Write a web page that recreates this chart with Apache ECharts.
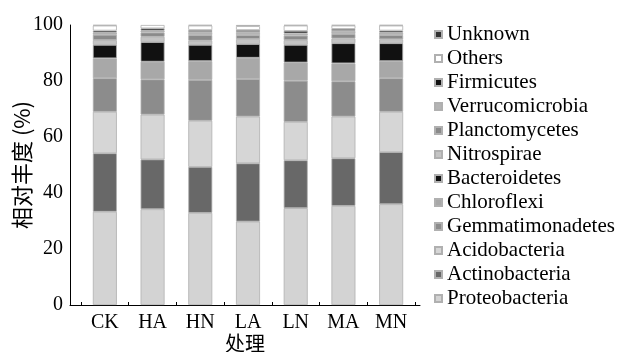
<!DOCTYPE html>
<html><head><meta charset="utf-8">
<script src="https://cdn.jsdelivr.net/npm/echarts@6/dist/echarts.min.js"></script>
<style>html,body{margin:0;padding:0;background:#fff}#c{width:623px;height:352px}</style>
</head><body><div id="c"></div>
<script>
const categories = ['CK','HA','HN','LA','LN','MA','MN'];
const yTicks = [0,20,40,60,80,100];
const Proteobacteria   = [33.3,34.2,32.9,29.8,34.6,35.4,36.0];
const Actinobacteria   = [20.9,17.8,16.4,20.8,17.1,17.0,18.6];
const Acidobacteria    = [14.8,16.0,16.5,16.7,13.7,14.9,14.4];
const Gemmatimonadetes = [12.0,12.6,14.6,13.4,14.7,12.6,12.0];
const Chloroflexi      = [7.1,6.3,6.7,7.6,6.5,6.4,6.1];
const Bacteroidetes    = [4.8,7.0,5.8,4.9,6.3,7.2,6.4];
const Nitrospirae      = [1.7,1.9,1.5,1.8,1.7,1.7,1.4];
const Planctomycetes   = [1.9,1.5,2.0,1.4,1.6,1.6,1.5];
const Verrucomicrobia  = [0.8,0.7,1.1,1.1,0.8,1.1,0.9];
const Firmicutes       = [0.7,0.8,0.7,0.7,0.9,0.7,0.7];
const Others           = [1.8,1.2,1.6,1.4,1.9,1.2,1.8];
const Unknown          = [0.2,0.2,0.2,0.4,0.2,0.2,0.2];

const stack = [
  ['Proteobacteria', Proteobacteria, '#d3d3d3'],
  ['Actinobacteria', Actinobacteria, '#686868'],
  ['Acidobacteria', Acidobacteria, '#d6d6d6'],
  ['Gemmatimonadetes', Gemmatimonadetes, '#8c8c8c'],
  ['Chloroflexi', Chloroflexi, '#a8a8a8'],
  ['Bacteroidetes', Bacteroidetes, '#111111'],
  ['Nitrospirae', Nitrospirae, '#c4c4c4'],
  ['Planctomycetes', Planctomycetes, '#8a8a8a'],
  ['Verrucomicrobia', Verrucomicrobia, '#b4b4b4'],
  ['Firmicutes', Firmicutes, '#111111'],
  ['Others', Others, '#ffffff'],
  ['Unknown', Unknown, '#333333']
];

const serif = '"Liberation Serif","Times New Roman",serif';
const cjk = '"Noto Sans CJK SC",sans-serif';

const chart = echarts.init(document.getElementById('c'), null, {renderer:'canvas'});
chart.setOption({
  animation:false,
  backgroundColor:'#fff',
  grid:[
    {left:70, right:203, top:25, bottom:47, outerBoundsMode:'none', containLabel:false},
    {left:81, right:208, top:25, bottom:47, outerBoundsMode:'none', containLabel:false}
  ],
  legend:{
    orient:'vertical', left:429, top:19,
    itemWidth:7, itemHeight:7, itemGap:3,
    icon:'rect',
    data: stack.map(s=>s[0]).reverse(),
    textStyle:{fontFamily:serif, fontSize:21, color:'#000', lineHeight:21}
  },
  xAxis:[
    {gridIndex:0, type:'value', min:0, max:1, show:true,
     axisLine:{show:true, lineStyle:{color:'#000', width:1}},
     axisTick:{show:false}, axisLabel:{show:false}, splitLine:{show:false},
     name:'处理', nameLocation:'middle', nameGap:28,
     nameTextStyle:{fontFamily:cjk, fontSize:20, color:'#000'}},
    {gridIndex:1, type:'category', data:categories,
     axisLine:{show:false},
     axisTick:{show:true, inside:true, length:3, lineStyle:{color:'#000'}},
     axisLabel:{fontFamily:serif, fontSize:20, color:'#000', margin:8}}
  ],
  yAxis:[
    {gridIndex:0, type:'value', min:0, max:100, interval:20,
     axisLine:{show:true, lineStyle:{color:'#000', width:1}},
     axisTick:{show:false}, splitLine:{show:false},
     axisLabel:{fontFamily:serif, fontSize:20, color:'#000', margin:7,
       formatter:v=> yTicks.includes(v)? String(v):''},
     name:'相对丰度 (%)', nameLocation:'middle', nameGap:37, nameMoveOverlap:false,
     nameTextStyle:{fontFamily:cjk, fontSize:22, color:'#000'}},
    {gridIndex:1, type:'value', min:0, max:100, show:false}
  ],
  series: stack.map(s=>({
    name:s[0], type:'bar', stack:'a', xAxisIndex:1, yAxisIndex:1,
    barWidth:24, data:s[1],
    itemStyle:{color:s[2], borderColor:'#b0b0b0', borderWidth:0.8}
  }))
});
</script></body></html>
